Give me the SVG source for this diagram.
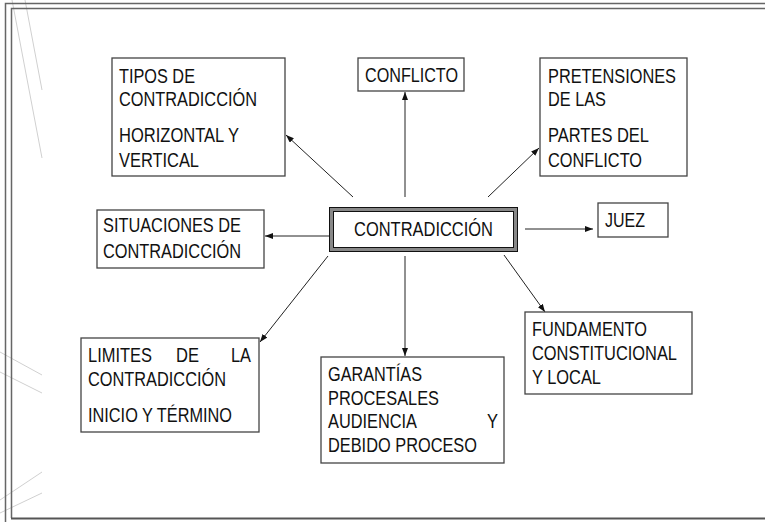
<svg xmlns="http://www.w3.org/2000/svg" width="765" height="522" viewBox="0 0 765 522">
<defs>
<style>
.t{font-family:"Liberation Sans Narrow","Liberation Sans",Arial,sans-serif;font-size:20px;fill:#111}
.box{fill:#fff;stroke:#444;stroke-width:1.3}
.frame{stroke:#666;stroke-width:1.5;fill:none}
.deco{stroke:#d0d0d0;stroke-width:1;fill:none}
.con{stroke:#222;stroke-width:1;fill:none;marker-end:url(#arr)}
</style>
<marker id="arr" viewBox="0 0 8 6" refX="8" refY="3" markerWidth="8" markerHeight="6" markerUnits="userSpaceOnUse" orient="auto">
<path d="M0,0 L8,3 L0,6 Z" fill="#111"/>
</marker>
</defs>
<rect width="765" height="522" fill="#fff"/>
<g id="decoration">
<line class="deco" x1="12" y1="0" x2="42" y2="158"/>
<line class="deco" x1="25" y1="0" x2="42" y2="90"/>
<line class="deco" x1="0" y1="352" x2="42" y2="375"/>
<line class="deco" x1="0" y1="372" x2="42" y2="393"/>
<line class="deco" x1="0" y1="500" x2="42" y2="472"/>
<line class="deco" x1="0" y1="513" x2="42" y2="493"/>
</g>
<g id="frame">
<polyline class="frame" points="5.5,522 5.5,3.5 765,3.5"/>
<polyline class="frame" points="11.5,518 11.5,8.5 765,8.5"/>
<line x1="11" y1="518.5" x2="765" y2="518.5" stroke="#555" stroke-width="2"/>
</g>
<g id="connectors">
<line class="con" x1="353" y1="197" x2="286" y2="135"/>
<line class="con" x1="405" y1="197" x2="405" y2="92"/>
<line class="con" x1="488" y1="197" x2="539" y2="148"/>
<line class="con" x1="329" y1="236" x2="265" y2="236"/>
<line class="con" x1="525" y1="229" x2="593" y2="229"/>
<line class="con" x1="328" y1="256" x2="260" y2="342"/>
<line class="con" x1="405" y1="256" x2="405" y2="356"/>
<line class="con" x1="504" y1="255" x2="545" y2="312"/>
</g>
<g id="n-contradiccion">
<rect x="331.5" y="209.5" width="184" height="40" fill="#fff" stroke="#888" stroke-width="4"/>
<rect x="329.5" y="207.5" width="188" height="44" fill="none" stroke="#111" stroke-width="1"/>
<rect x="333.5" y="211.5" width="180" height="36" fill="none" stroke="#111" stroke-width="1"/>
<text class="t" x="354" y="236" textLength="139" lengthAdjust="spacingAndGlyphs">CONTRADICCIÓN</text>
</g>
<g id="n-tipos">
<rect class="box" x="112" y="58" width="173" height="118"/>
<text class="t" x="119" y="83" textLength="76" lengthAdjust="spacingAndGlyphs">TIPOS DE</text>
<text class="t" x="119" y="106" textLength="138" lengthAdjust="spacingAndGlyphs">CONTRADICCIÓN</text>
<text class="t" x="119" y="142" textLength="120" lengthAdjust="spacingAndGlyphs">HORIZONTAL Y</text>
<text class="t" x="119" y="167" textLength="80" lengthAdjust="spacingAndGlyphs">VERTICAL</text>
</g>
<g id="n-conflicto">
<rect class="box" x="358" y="58" width="106" height="33"/>
<text class="t" x="365" y="82" textLength="93" lengthAdjust="spacingAndGlyphs">CONFLICTO</text>
</g>
<g id="n-pretensiones">
<rect class="box" x="540" y="58" width="147" height="118"/>
<text class="t" x="548" y="83" textLength="128" lengthAdjust="spacingAndGlyphs">PRETENSIONES</text>
<text class="t" x="548" y="106" textLength="58" lengthAdjust="spacingAndGlyphs">DE LAS</text>
<text class="t" x="548" y="142" textLength="101" lengthAdjust="spacingAndGlyphs">PARTES DEL</text>
<text class="t" x="548" y="167" textLength="94" lengthAdjust="spacingAndGlyphs">CONFLICTO</text>
</g>
<g id="n-situaciones">
<rect class="box" x="97" y="210" width="167" height="58"/>
<text class="t" x="103" y="232" textLength="138" lengthAdjust="spacingAndGlyphs">SITUACIONES DE</text>
<text class="t" x="103" y="258" textLength="138" lengthAdjust="spacingAndGlyphs">CONTRADICCIÓN</text>
</g>
<g id="n-juez">
<rect class="box" x="598" y="203" width="70" height="34"/>
<text class="t" x="605" y="227" textLength="40" lengthAdjust="spacingAndGlyphs">JUEZ</text>
</g>
<g id="n-limites">
<rect class="box" x="81" y="338" width="178" height="94"/>
<text class="t" x="88" y="362" textLength="64" lengthAdjust="spacingAndGlyphs">LIMITES</text>
<text class="t" x="176" y="362" textLength="23" lengthAdjust="spacingAndGlyphs">DE</text>
<text class="t" x="231" y="362" textLength="20" lengthAdjust="spacingAndGlyphs">LA</text>
<text class="t" x="88" y="386" textLength="138" lengthAdjust="spacingAndGlyphs">CONTRADICCIÓN</text>
<text class="t" x="88" y="422" textLength="144" lengthAdjust="spacingAndGlyphs">INICIO Y TÉRMINO</text>
</g>
<g id="n-garantias">
<rect class="box" x="321" y="357" width="183" height="106"/>
<text class="t" x="328" y="381" textLength="94" lengthAdjust="spacingAndGlyphs">GARANTÍAS</text>
<text class="t" x="328" y="405" textLength="111" lengthAdjust="spacingAndGlyphs">PROCESALES</text>
<text class="t" x="328" y="428" textLength="89" lengthAdjust="spacingAndGlyphs">AUDIENCIA</text>
<text class="t" x="487" y="428" textLength="11" lengthAdjust="spacingAndGlyphs">Y</text>
<text class="t" x="328" y="452" textLength="149" lengthAdjust="spacingAndGlyphs">DEBIDO PROCESO</text>
</g>
<g id="n-fundamento">
<rect class="box" x="525" y="312" width="167" height="82"/>
<text class="t" x="532" y="336" textLength="115" lengthAdjust="spacingAndGlyphs">FUNDAMENTO</text>
<text class="t" x="532" y="360" textLength="145" lengthAdjust="spacingAndGlyphs">CONSTITUCIONAL</text>
<text class="t" x="532" y="384" textLength="69" lengthAdjust="spacingAndGlyphs">Y LOCAL</text>
</g>
</svg>
